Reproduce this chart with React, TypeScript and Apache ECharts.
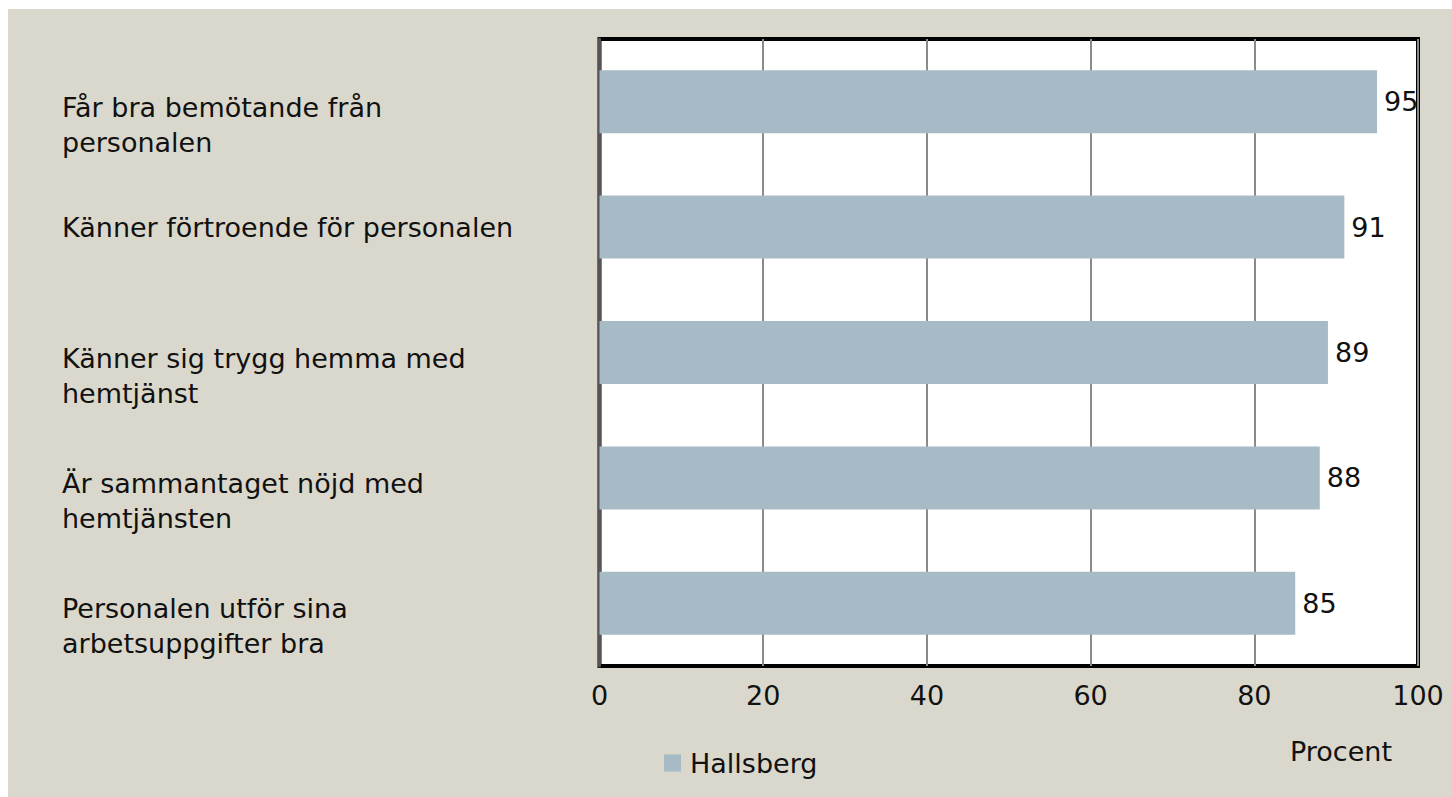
import React, { useEffect, useRef } from "react";
import * as echarts from "echarts";

const categories = [
  "Får bra bemötande från\npersonalen",
  "Känner förtroende för personalen",
  "Känner sig trygg hemma med\nhemtjänst",
  "Är sammantaget nöjd med\nhemtjänsten",
  "Personalen utför sina\narbetsuppgifter bra",
];
const values = [95, 91, 89, 88, 85];
const seriesName = "Hallsberg";
const axisName = "Procent";

const FONT = "DejaVu Sans";
const FS = 27;
const TXT = "#111111";

export default function App() {
  const ref = useRef<HTMLDivElement>(null);
  useEffect(() => {
    if (!ref.current) return;
    const chart = echarts.init(ref.current, undefined, { renderer: "svg" });
    chart.setOption({
      animation: false,
      backgroundColor: "#dad8cc",
      textStyle: { fontFamily: FONT },
      title: {
        text: axisName,
        left: 1282,
        top: 729,
        padding: 0,
        textStyle: { fontFamily: FONT, fontSize: FS, fontWeight: "normal", color: TXT },
      },
      legend: {
        data: [seriesName],
        left: 656,
        top: 740,
        padding: 0,
        icon: "rect",
        itemWidth: 17,
        itemHeight: 17,
        textStyle: { fontFamily: FONT, fontSize: FS, color: TXT, lineHeight: 28, padding: [0, 0, 0, 4] },
      },
      grid: {
        left: 591.5,
        top: 30,
        width: 818.5,
        height: 627,
        show: true,
        backgroundColor: "#ffffff",
        borderColor: "#000000",
        borderWidth: 4,
        containLabel: false,
      },
      xAxis: {
        type: "value",
        min: 0,
        max: 100,
        interval: 20,
        axisLine: { show: false },
        axisTick: { show: false },
        splitLine: { show: true, lineStyle: { color: "#8a8a8a", width: 2 } },
        axisLabel: { fontFamily: FONT, fontSize: FS, color: TXT, margin: 16 },
      },
      yAxis: {
        type: "category",
        data: categories,
        inverse: true,
        axisLine: { show: true, lineStyle: { color: "#555", width: 3 } },
        axisTick: { show: false },
        axisLabel: {
          align: "left",
          verticalAlign: "middle",
          margin: 537.5,
          formatter: (v: string) => {
            const parts = v.split("\n");
            if (parts.length > 1) {
              return `{sp| }\n{t|${parts[0]}}\n{t|${parts[1]}}`;
            }
            return `{t|${v}}`;
          },
          rich: {
            sp: { lineHeight: 46, fontSize: 10 },
            t: { fontFamily: FONT, fontSize: FS, lineHeight: 35, color: TXT },
          },
        },
      },
      series: [
        {
          name: seriesName,
          type: "bar",
          data: values,
          barWidth: 63,
          itemStyle: { color: "#a7bbc6" },
          label: {
            show: true,
            position: "right",
            distance: 7,
            fontFamily: FONT,
            fontSize: FS,
            color: TXT,
          },
        },
      ],
    });
    return () => chart.dispose();
  }, []);
  return (
    <div
      ref={ref}
      style={{ position: "absolute", left: 8, top: 9, width: 1444, height: 788 }}
    />
  );
}
